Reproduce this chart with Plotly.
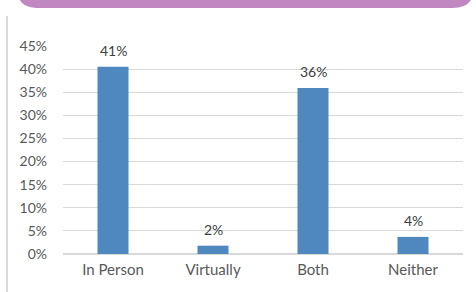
import plotly.graph_objects as go

categories = ["In Person", "Virtually", "Both", "Neither"]
values = [0.405, 0.018, 0.359, 0.037]
value_labels = ["41%", "2%", "36%", "4%"]
y_ticks = [0, 0.05, 0.10, 0.15, 0.20, 0.25, 0.30, 0.35, 0.40, 0.45]
y_tick_labels = ["0%", "5%", "10%", "15%", "20%", "25%", "30%", "35%", "40%", "45%"]

W, H = 476, 292
L, R, T, B = 63, 13, 46, 38
PW, PH = W - L - R, H - T - B

def px(x):
    return (x - L) / PW

def py(y):
    return (H - B - y) / PH

fig = go.Figure(go.Bar(
    x=categories, y=values,
    marker=dict(color="#4F88BE", line=dict(width=0)),
    width=0.31, hoverinfo="skip",
))

for c, v, t in zip(categories, values, value_labels):
    fig.add_annotation(x=c, y=v, text=t, showarrow=False, yanchor="bottom",
                       yshift=6, font=dict(size=14, color="#404040"))

banner = (f"M {px(20)},{py(-5)} L {px(20)},{py(0)} "
          f"Q {px(24)},{py(8)} {px(40)},{py(8)} "
          f"L {px(452)},{py(8)} Q {px(466)},{py(8)} {px(471)},{py(0)} "
          f"L {px(471)},{py(-5)} Z")
fig.add_shape(type="path", path=banner, xref="paper", yref="paper",
              fillcolor="#C187C0", line=dict(width=0), layer="above")
fig.add_shape(type="line", xref="paper", yref="paper",
              x0=px(7), x1=px(7), y0=py(16), y1=py(300),
              line=dict(color="#D9D9D9", width=2))

fig.update_layout(
    width=W, height=H, margin=dict(l=L, r=R, t=T, b=B),
    paper_bgcolor="white", plot_bgcolor="white",
    font=dict(family="Lato, 'Open Sans', sans-serif", size=14, color="#595959"),
    showlegend=False, bargap=0.69,
    xaxis=dict(showline=False, showgrid=False, ticks="", ticklabelstandoff=5,
               tickfont=dict(size=15, color="#595959")),
    yaxis=dict(range=[0, 0.45], tickvals=y_ticks, ticktext=y_tick_labels,
               showgrid=True, gridcolor="#D9D9D9", gridwidth=1, zeroline=True,
               zerolinecolor="#D9D9D9", showline=False, ticks="",
               ticklabelstandoff=15, tickfont=dict(size=14, color="#595959")),
)

fig.write_html("out.html", config={"displayModeBar": False},
               post_script="document.body.style.margin='0';document.body.style.overflow='hidden';")
